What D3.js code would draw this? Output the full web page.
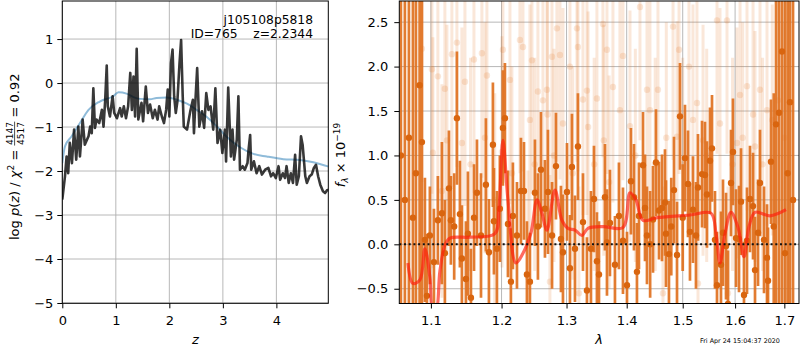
<!DOCTYPE html>
<html>
<head>
<meta charset="utf-8">
<script src="https://cdn.jsdelivr.net/npm/d3@7"></script>
<style>
body { margin: 0; background: #fff; }
svg text { font-family: "DejaVu Sans", sans-serif; }
</style>
</head>
<body>
<svg id="chart" width="800" height="350"></svg>
<script>
// ---- left panel: log p(z) ----
let zP = [0.00,0.05,0.08,0.11,0.14,0.18,0.22,0.26,0.30,0.33,0.38,0.42,0.49,0.52,0.55,0.58,0.61,0.64,0.69,0.74,
  0.77,0.80,0.83,0.85,0.89,0.94,0.97,1.02,1.08,1.11,1.15,1.19,1.23,1.27,1.30,1.33,1.36,1.39,1.42,1.48,
  1.51,1.56,1.60,1.64,1.69,1.73,1.78,1.81,1.86,1.90,1.94,1.97,2.00,2.03,2.06,2.09,2.12,2.15,2.19,2.22,
  2.25,2.27,2.33,2.39,2.44,2.46,2.49,2.52,2.56,2.61,2.65,2.69,2.73,2.77,2.82,2.86,2.90,2.95,2.99,3.04,
  3.06,3.10,3.15,3.18,3.21,3.26,3.29,3.32,3.37,3.41,3.46,3.48,3.51,3.53,3.58,3.63,3.68,3.73,3.79,3.85,
  3.90,3.94,3.99,4.04,4.07,4.12,4.16,4.19,4.23,4.27,4.31,4.35,4.38,4.42,4.46,4.49,4.54,4.57,4.62,4.66,
  4.70,4.74,4.78,4.82,4.87,4.91,4.95,4.98];
let logP = [-2.65,-2.12,-1.67,-2.05,-1.36,-1.82,-1.06,-1.74,-0.99,-1.67,-0.83,-1.40,-1.21,-0.99,-1.14,-0.12,-1.02,-0.83,-0.91,-0.61,
  -0.99,-0.42,0.40,-0.53,-0.76,-0.30,-0.68,-0.80,-0.57,-0.76,-0.53,-0.80,-0.53,0.23,-0.61,0.15,-0.76,0.78,-0.83,-0.45,
  -0.87,-0.08,-0.68,-0.49,-0.80,-0.61,-0.83,-0.53,-0.76,-0.91,-0.61,-0.15,-0.76,0.45,0.76,-0.30,-0.68,-0.42,0.45,0.98,
  -0.30,-0.99,-1.06,-0.65,-0.38,-1.14,-0.34,0.34,-0.99,-0.64,-1.02,-0.23,-0.61,-0.53,-1.06,-0.12,-1.36,-1.06,-1.59,-1.06,
  -1.78,-0.10,-1.67,-1.06,-1.74,-1.29,-0.30,-1.97,-1.89,-1.97,-1.82,-1.52,-1.18,-1.97,-1.78,-2.05,-1.89,-2.08,-1.97,-1.93,
  -2.12,-2.05,-2.16,-1.89,-2.20,-2.05,-2.16,-1.89,-2.27,-2.05,-2.27,-1.63,-2.31,-2.12,-1.21,-1.40,-2.12,-2.27,-2.12,-2.08,
  -1.93,-1.86,-2.12,-2.31,-2.46,-2.50,-2.43,-2.43];

let zB = [0.00,0.05,0.175,0.33,0.49,0.70,0.95,1.05,1.20,1.33,1.45,1.64,1.76,1.95,2.14,2.33,2.51,2.70,2.89,3.07,
  3.32,3.57,3.82,4.13,4.44,4.69,4.98];
let logB = [-1.82,-1.44,-1.21,-0.91,-0.61,-0.42,-0.30,-0.21,-0.24,-0.32,-0.36,-0.37,-0.34,-0.33,-0.38,-0.47,-0.61,-0.77,-0.99,-1.22,
  -1.46,-1.61,-1.67,-1.73,-1.75,-1.80,-1.90];

let zTicks = [0, 1, 2, 3, 4];
let pTicks = [-5, -4, -3, -2, -1, 0, 1];

// ---- right panel: spectrum ----
let lamD = [1.0601,1.0653,1.0706,1.0759,1.0799,1.0848,1.0879,1.0919,1.0946,1.0986,1.1041,1.1095,1.1150,1.1191,1.1247,1.1274,1.1320,1.1358,1.1400,1.1428,
  1.1485,1.1513,1.1556,1.1600,1.1642,1.1700,1.1771,1.1815,1.1873,1.1888,1.1932,1.1975,1.2020,1.2050,1.2095,1.2139,1.2169,1.2230,1.2290,1.2336,
  1.2381,1.2427,1.2504,1.2550,1.2597,1.2659,1.2706,1.2770,1.2832,1.2911,1.2943,1.3007,1.3055,1.3087,1.3136,1.3184,1.3266,1.3331,1.3397,1.3447,
  1.3496,1.3530,1.3630,1.3664,1.3714,1.3799,1.3867,1.3936,1.4005,1.4074,1.4126,1.4178,1.4213,1.4284,1.4319,1.4354,1.4410,1.4461,1.4514,1.4568,
  1.4622,1.4676,1.4694,1.4748,1.4790,1.4840,1.4895,1.4950,1.5000,1.5042,1.5098,1.5135,1.5191,1.5247,1.5285,1.5361,1.5417,1.5455,1.5513,1.5551,
  1.5608,1.5647,1.5724,1.5763,1.5822,1.5860,1.5919,1.5958,1.6018,1.6077,1.6117,1.6176,1.6236,1.6296,1.6357,1.6397,1.6458,1.6498,1.6580,1.6641,
  1.6662,1.6723,1.6780,1.6827,1.6889,1.6951,1.7014,1.7070,1.7119,1.7183];
let fluxD = [1.00,0.50,1.20,0.30,0.80,1.79,1.15,0.05,-0.58,0.10,-0.20,0.27,0.35,-0.10,0.63,0.27,0.20,1.42,0.34,-0.16,
  -0.39,0.12,-0.60,0.30,0.58,0.10,0.67,-0.09,1.12,0.26,-0.05,0.40,1.31,1.42,0.23,-0.42,0.32,0.10,0.60,0.60,
  -0.34,-0.42,0.58,0.20,0.84,0.40,0.59,0.10,0.88,0.06,-0.09,0.59,-0.27,0.87,-0.05,1.10,0.25,-0.52,-0.05,0.51,
  -0.19,-0.34,0.53,0.02,0.24,-0.23,0.32,0.04,-0.46,0.71,0.53,-0.31,0.32,0.89,0.41,0.10,0.00,0.28,0.92,0.38,
  0.41,0.47,0.12,-0.11,0.20,0.61,-0.12,1.44,0.30,0.97,0.68,0.14,0.39,0.10,0.64,0.79,0.78,0.56,0.94,1.08,
  0.05,-0.46,-0.23,0.13,-0.02,-0.67,0.69,1.04,0.07,0.06,0.48,-0.57,0.04,0.51,0.43,-0.29,0.13,0.69,0.05,-0.15,
  -0.41,0.93,0.20,1.35,1.48,2.17,-0.10,0.80,1.60,0.50];
let errD = [5,5,5,5,5,2.5,2.2,0.7,0.7,0.55,0.6,0.5,0.8,0.6,0.65,0.5,0.6,0.75,0.6,0.6,
  0.65,0.7,0.55,0.6,0.6,0.7,0.75,0.6,0.7,0.6,0.65,0.6,0.65,0.62,0.6,0.6,0.6,0.6,0.6,0.55,
  0.6,0.55,0.6,0.6,0.65,0.55,0.7,0.6,0.6,0.6,0.65,0.55,0.6,0.6,0.6,0.6,0.55,0.6,0.65,0.6,
  0.55,0.6,0.6,0.6,0.6,0.55,0.6,0.6,0.6,0.6,0.6,0.55,0.6,0.6,0.6,0.55,0.6,0.6,0.6,0.55,
  0.6,0.6,0.6,0.6,0.55,0.6,0.6,0.6,0.6,0.6,0.6,0.55,0.6,0.6,0.6,0.6,0.6,0.6,0.6,0.6,
  0.55,0.6,0.6,0.6,0.6,0.6,0.6,0.6,0.55,0.6,0.6,0.6,0.6,0.6,0.6,0.6,0.6,0.6,0.6,0.6,
  0.6,0.7,1.5,4,4,4,4,4,4,4];

let lamF = [1.0879,1.1014,1.1027,1.1095,1.1150,1.1191,1.1219,1.1288,1.1358,1.1428,1.1471,1.1550,1.1599,1.1713,1.1757,1.1786,1.1900,1.2006,1.2020,1.2125,
  1.2154,1.2275,1.2321,1.2396,1.2427,1.2458,1.2500,1.2550,1.2628,1.2690,1.2700,1.2737,1.2769,1.2800,1.2847,1.2895,1.2943,1.3055,1.3100,1.3168,
  1.3184,1.3200,1.3266,1.3331,1.3350,1.3450,1.3496,1.3596,1.3610,1.3664,1.3700,1.3765,1.3884,1.3936,1.4057,1.4150,1.4231,1.4354,1.4407,1.4500,
  1.4550,1.4640,1.4700,1.4822,1.4895,1.4932,1.5000,1.5116,1.5191,1.5266,1.5285,1.5380,1.5450,1.5647,1.5705,1.5841,1.5860,1.5950,1.6037,1.6097,
  1.6150,1.6236,1.6357,1.6397,1.6498,1.6550,1.6641,1.6750,1.6868,1.7000];
let fluxF = [2.20,1.97,1.03,1.89,0.60,1.75,1.17,2.14,2.27,1.14,1.83,0.90,2.08,2.15,1.20,1.90,0.50,1.04,2.19,1.85,
  0.80,2.30,2.22,-0.37,1.40,2.07,0.90,1.72,1.62,1.74,1.46,-0.42,2.11,1.00,2.43,2.13,1.36,2.00,0.80,2.43,
  2.22,-0.55,1.63,1.73,1.32,0.90,1.64,2.48,1.17,2.19,0.70,1.77,1.51,2.12,1.33,1.00,2.67,1.74,1.51,0.90,
  1.74,-0.55,1.20,2.45,1.21,2.19,0.90,2.00,1.40,1.59,-0.44,1.17,1.00,2.52,1.36,2.52,-0.55,0.90,1.14,1.68,
  1.20,1.78,1.46,1.10,1.74,0.90,1.51,1.40,1.62,1.20];
let errF = [1.5,1.4,1.3,1.5,1.2,1.4,1.3,1.5,1.4,1.3,1.4,1.2,1.5,1.4,1.3,1.4,1.2,1.3,1.5,1.4,
  1.2,1.5,1.4,1.2,1.3,1.5,1.2,1.4,1.3,1.4,1.3,1.2,1.5,1.2,1.5,1.4,1.3,1.4,1.2,1.5,
  1.4,1.2,1.3,1.4,1.3,1.2,1.3,1.5,1.3,1.4,1.2,1.3,1.3,1.4,1.3,1.2,1.5,1.4,1.3,1.2,
  1.4,1.2,1.3,1.5,1.3,1.4,1.2,1.4,1.3,1.3,1.2,1.3,1.2,1.5,1.3,1.5,1.2,1.2,1.3,1.4,
  1.3,1.4,1.3,1.3,1.4,1.2,1.3,1.3,1.4,1.3];

let lamM = [1.0693,1.0759,1.0852,1.0919,1.0986,1.1027,1.1068,1.1123,1.1191,1.1261,1.1542,1.1902,1.1961,1.2020,1.2095,1.2214,1.2321,1.2443,1.2535,1.2612,
  1.2690,1.2816,1.2927,1.3023,1.3136,1.3249,1.3348,1.3596,1.3936,1.4057,1.4161,1.4284,1.4532,1.5135,1.5532,1.5628,1.5705,1.5802,1.5919,1.6057,
  1.6176,1.6276,1.6397,1.6703,1.7035];
let fluxM = [-0.21,-0.44,-0.40,-0.05,-0.37,-0.75,-0.75,-0.30,-0.01,0.07,0.08,0.12,0.40,1.17,0.50,-0.21,-0.10,0.13,0.50,0.35,
  0.16,0.61,0.27,0.18,0.16,0.10,0.18,0.20,0.19,0.58,0.50,0.27,0.30,0.33,0.35,0.12,-0.21,0.12,0.36,0.19,
  -0.14,0.20,0.36,0.32,0.39];

let lamTicks = [1.1, 1.2, 1.3, 1.4, 1.5, 1.6, 1.7];
let fTicks = [-0.5, 0, 0.5, 1, 1.5, 2, 2.5];

const orange = "#e0711f";
const gridColor = "#b0b0b0";
const svg = d3.select("#chart");

const L = {x0: 62.3, x1: 328.3, y0: 1, y1: 303.3};
const R = {x0: 399.3, x1: 799, y0: 1, y1: 303.5};

let zX = d3.scaleLinear().domain([0, 4.97]).range([L.x0, L.x1]);
let pY = d3.scaleLinear().domain([-5.007, 1.865]).range([L.y1, L.y0]);
let lamX = d3.scaleLog().domain([1.058, 1.731]).range([R.x0, R.x1]);
let fY = d3.scaleLinear().domain([-0.666, 2.738]).range([R.y1, R.y0]);

let defs = svg.append("defs");
defs.append("clipPath").attr("id", "clipL").append("rect")
  .attr("x", L.x0).attr("y", L.y0).attr("width", L.x1 - L.x0).attr("height", L.y1 - L.y0);
defs.append("clipPath").attr("id", "clipR").append("rect")
  .attr("x", R.x0).attr("y", R.y0).attr("width", R.x1 - R.x0).attr("height", R.y1 - R.y0);

function grid(P, xs, xt, ys, yt) {
  let g = svg.append("g").attr("stroke", gridColor).attr("stroke-width", 0.9);
  g.selectAll(".gx").data(xt).enter().append("line")
    .attr("x1", d => xs(d)).attr("x2", d => xs(d)).attr("y1", P.y0).attr("y2", P.y1);
  g.selectAll(".gy").data(yt).enter().append("line")
    .attr("y1", d => ys(d)).attr("y2", d => ys(d)).attr("x1", P.x0).attr("x2", P.x1);
}

function axes(P, xs, xt, xf, ys, yt, yf, ypad) {
  let ax = svg.append("g").attr("transform", `translate(0,${P.y1})`)
    .call(d3.axisBottom(xs).tickValues(xt).tickFormat(xf).tickSize(5).tickPadding(7).tickSizeOuter(0));
  let ay = svg.append("g").attr("transform", `translate(${P.x0},0)`)
    .call(d3.axisLeft(ys).tickValues(yt).tickFormat(yf).tickSize(5).tickPadding(ypad).tickSizeOuter(0));
  [ax, ay].forEach(a => {
    a.select(".domain").remove();
    a.attr("font-size", 13).attr("font-family", "DejaVu Sans");
    a.selectAll("text").attr("fill", "#000");
    a.selectAll("line").attr("stroke", "#000");
  });
  svg.append("rect").attr("x", P.x0).attr("y", P.y0)
    .attr("width", P.x1 - P.x0).attr("height", P.y1 - P.y0)
    .attr("fill", "none").attr("stroke", "#000").attr("stroke-width", 1);
}

// left panel
grid(L, zX, zTicks, pY, pTicks);
let pl = svg.append("g").attr("clip-path", "url(#clipL)");
pl.append("path").datum(zB.map((z, i) => [z, logB[i]]))
  .attr("d", d3.line().x(d => zX(d[0])).y(d => pY(d[1])).curve(d3.curveMonotoneX))
  .attr("fill", "none").attr("stroke", "#1f77b4").attr("stroke-opacity", 0.5).attr("stroke-width", 2);
pl.append("path").datum(zP.map((z, i) => [z, logP[i]]))
  .attr("d", d3.line().x(d => zX(d[0])).y(d => pY(d[1])))
  .attr("fill", "none").attr("stroke", "#000").attr("stroke-opacity", 0.78)
  .attr("stroke-width", 2.6).attr("stroke-linejoin", "round");
axes(L, zX, zTicks, d3.format("d"), pY, pTicks, d3.format("d"), 4);

svg.append("text").attr("x", 313).attr("y", 23.5).attr("text-anchor", "end")
  .attr("font-size", 12.3).text("j105108p5818");
svg.append("text").attr("x", 313).attr("y", 37.5).attr("text-anchor", "end")
  .attr("font-size", 12.3).style("white-space", "pre").text("ID=765    z=2.2344");

svg.append("text").attr("x", (L.x0 + L.x1) / 2).attr("y", 344).attr("text-anchor", "middle")
  .attr("font-size", 13).attr("font-style", "italic").text("z");

// left y label with fraction
let gl = svg.append("g").attr("transform", "translate(19,240) rotate(-90)");
let t1 = gl.append("text").attr("x", 0).attr("y", 0).attr("font-size", 13).style("white-space", "pre");
t1.append("tspan").text("log ");
t1.append("tspan").attr("font-style", "italic").text("p");
t1.append("tspan").text("(");
t1.append("tspan").attr("font-style", "italic").text("z");
t1.append("tspan").text(") / ");
t1.append("tspan").attr("font-style", "italic").text("χ");
t1.append("tspan").attr("font-size", 9).attr("dy", -5.5).text("2");
t1.append("tspan").attr("dy", 5.5).text(" = ");
let w1 = t1.node().getComputedTextLength();
let num = gl.append("text").attr("font-size", 9).attr("text-anchor", "middle").attr("y", -6.5).text("4147");
let den = gl.append("text").attr("font-size", 9).attr("text-anchor", "middle").attr("y", 4.5).text("4517");
let fw = Math.max(num.node().getComputedTextLength(), den.node().getComputedTextLength()) + 1;
num.attr("x", w1 + fw / 2);
den.attr("x", w1 + fw / 2);
gl.append("line").attr("x1", w1).attr("x2", w1 + fw).attr("y1", -4.4).attr("y2", -4.4)
  .attr("stroke", "#000").attr("stroke-width", 0.7);
gl.append("text").attr("x", w1 + fw).attr("y", 0).attr("font-size", 13)
  .style("white-space", "pre").text(" = 0.92");

// right panel
grid(R, lamX, lamTicks, fY, fTicks);
let pr = svg.append("g").attr("clip-path", "url(#clipR)");

let faint = lamF.map((l, i) => ({l: l, f: fluxF[i], e: errF[i]}));
let dark = lamD.map((l, i) => ({l: l, f: fluxD[i], e: errD[i]}));

pr.append("g").selectAll("line").data(faint).enter().append("line")
  .attr("x1", d => lamX(d.l)).attr("x2", d => lamX(d.l))
  .attr("y1", d => fY(d.f - d.e)).attr("y2", d => fY(d.f + d.e))
  .attr("stroke", orange).attr("stroke-opacity", 0.17).attr("stroke-width", 3);
pr.append("g").selectAll("circle").data(faint).enter().append("circle")
  .attr("cx", d => lamX(d.l)).attr("cy", d => fY(d.f)).attr("r", 3.2)
  .attr("fill", orange).attr("fill-opacity", 0.17);

pr.append("g").selectAll("line").data(dark).enter().append("line")
  .attr("x1", d => lamX(d.l)).attr("x2", d => lamX(d.l))
  .attr("y1", d => fY(d.f - d.e)).attr("y2", d => fY(d.f + d.e))
  .attr("stroke", orange).attr("stroke-opacity", 0.92).attr("stroke-width", 2.7);
pr.append("g").selectAll("circle").data(dark).enter().append("circle")
  .attr("cx", d => lamX(d.l)).attr("cy", d => fY(d.f)).attr("r", 3.2)
  .attr("fill", "#d9650f");

pr.append("path").datum(lamM.map((l, i) => [l, fluxM[i]]))
  .attr("d", d3.line().x(d => lamX(d[0])).y(d => fY(d[1])).curve(d3.curveCatmullRom))
  .attr("fill", "none").attr("stroke", "#ff1a0a").attr("stroke-opacity", 0.65).attr("stroke-width", 3.2);

pr.append("line").attr("x1", R.x0).attr("x2", R.x1).attr("y1", fY(0)).attr("y2", fY(0))
  .attr("stroke", "#111").attr("stroke-width", 2).attr("stroke-dasharray", "2,2.7");

axes(R, lamX, lamTicks, d3.format(".1f"), fY, fTicks, d3.format(".1f"), 6);

svg.append("text").attr("x", 599).attr("y", 344).attr("text-anchor", "middle")
  .attr("font-size", 13).attr("font-style", "italic").text("λ");

let gr = svg.append("g").attr("transform", "translate(345,155) rotate(-90)");
let t2 = gr.append("text").attr("x", 0).attr("y", 0).attr("font-size", 13).attr("text-anchor", "middle");
t2.append("tspan").attr("font-style", "italic").text("f");
t2.append("tspan").attr("font-style", "italic").attr("font-size", 9).attr("dy", 3).text("λ");
t2.append("tspan").attr("dy", -3).text(" × 10");
t2.append("tspan").attr("font-size", 9).attr("dy", -5.5).text("−19");

svg.append("text").attr("x", 700).attr("y", 343).attr("font-size", 6.4)
  .text("Fri Apr 24 15:04:37 2020");
</script>
</body>
</html>
